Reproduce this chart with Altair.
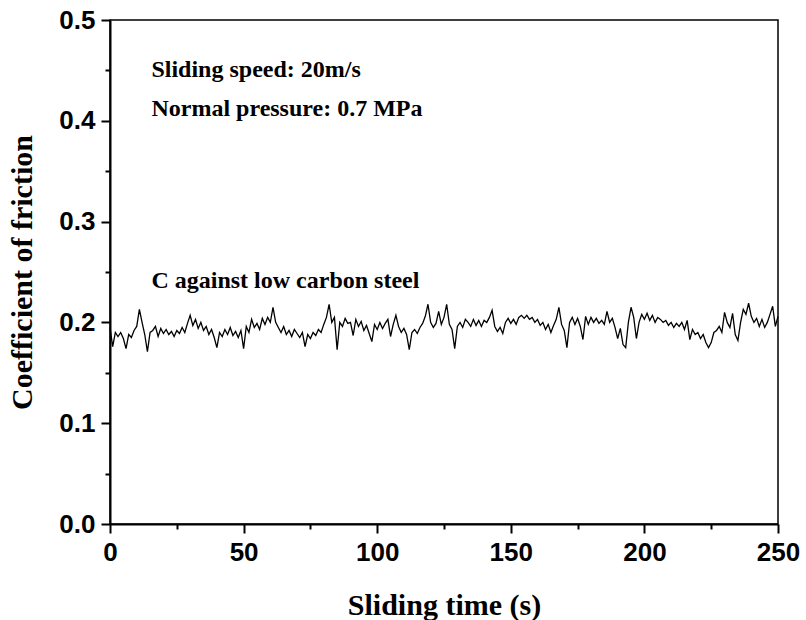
import altair as alt
import pandas as pd

# Sliding time (s), 1 s steps
time_s = list(range(0, 251))

# Coefficient of friction
cof = [
    0.195, 0.176, 0.190, 0.186, 0.190, 0.184, 0.174, 0.188, 0.185, 0.192,
    0.196, 0.213, 0.200, 0.188, 0.171, 0.190, 0.192, 0.196, 0.186, 0.194,
    0.189, 0.193, 0.188, 0.191, 0.186, 0.192, 0.189, 0.195, 0.190, 0.199,
    0.207, 0.197, 0.203, 0.194, 0.200, 0.192, 0.196, 0.188, 0.193, 0.185,
    0.175, 0.190, 0.186, 0.193, 0.188, 0.195, 0.187, 0.191, 0.185, 0.192,
    0.174, 0.196, 0.190, 0.203, 0.195, 0.199, 0.193, 0.204, 0.198, 0.205,
    0.200, 0.215, 0.200, 0.195, 0.190, 0.196, 0.188, 0.192, 0.186, 0.193,
    0.189, 0.185, 0.190, 0.176, 0.188, 0.184, 0.190, 0.187, 0.193, 0.190,
    0.198, 0.205, 0.218, 0.200, 0.205, 0.173, 0.200, 0.196, 0.204, 0.199,
    0.200, 0.187, 0.203, 0.196, 0.201, 0.192, 0.197, 0.189, 0.181, 0.198,
    0.193, 0.200, 0.194, 0.199, 0.203, 0.186, 0.198, 0.207, 0.196, 0.190,
    0.194, 0.188, 0.173, 0.190, 0.193, 0.189, 0.195, 0.199, 0.206, 0.218,
    0.200, 0.195, 0.199, 0.211, 0.198, 0.205, 0.218, 0.198, 0.193, 0.174,
    0.196, 0.200, 0.195, 0.203, 0.200, 0.196, 0.203, 0.197, 0.202, 0.196,
    0.202, 0.200, 0.205, 0.212, 0.196, 0.191, 0.195, 0.189, 0.200, 0.204,
    0.199, 0.203, 0.198, 0.205, 0.207, 0.204, 0.207, 0.203, 0.205, 0.200,
    0.203, 0.197, 0.200, 0.193, 0.198, 0.190, 0.197, 0.203, 0.215, 0.198,
    0.192, 0.175, 0.200, 0.205, 0.198, 0.204, 0.196, 0.183, 0.206, 0.198,
    0.205, 0.200, 0.204, 0.199, 0.202, 0.198, 0.211, 0.200, 0.204, 0.195,
    0.184, 0.194, 0.178, 0.175, 0.200, 0.215, 0.205, 0.184, 0.200, 0.208,
    0.203, 0.209, 0.202, 0.207, 0.200, 0.205, 0.203, 0.200, 0.202, 0.197,
    0.200, 0.195, 0.199, 0.196, 0.200, 0.193, 0.202, 0.183, 0.193, 0.188,
    0.190, 0.184, 0.188, 0.180, 0.175, 0.180, 0.190, 0.192, 0.196, 0.190,
    0.210, 0.200, 0.195, 0.209, 0.188, 0.182, 0.200, 0.213, 0.208, 0.219,
    0.206, 0.200, 0.204, 0.196, 0.203, 0.195, 0.200, 0.208, 0.216, 0.196,
    0.206,
]

x_ticks = [0, 25, 50, 75, 100, 125, 150, 175, 200, 225, 250]
y_ticks = [0.0, 0.05, 0.1, 0.15, 0.2, 0.25, 0.3, 0.35, 0.4, 0.45, 0.5]

notes = ["Sliding speed: 20m/s", "Normal pressure: 0.7 MPa", "C against low carbon steel"]
note_x = [15.5, 15.5, 15.5]
note_y = [0.4434, 0.4049, 0.2346]

df = pd.DataFrame({"t": time_s, "cof": cof})
df_notes = pd.DataFrame({"label": notes, "x": note_x, "y": note_y})

SANS = "Liberation Sans"
SERIF = "Liberation Serif"

x_scale = alt.Scale(domain=[0, 250], nice=False, zero=False)
y_scale = alt.Scale(domain=[0, 0.5], nice=False)

x_axis = alt.Axis(
    values=x_ticks,
    labelExpr="datum.value % 50 === 0 ? format(datum.value, 'd') : ''",
    tickSize={"condition": {"test": "datum.value % 50 === 0", "value": 9}, "value": 5},
    tickWidth=2, tickColor="black",
    domainColor="black", domainWidth=2,
    labelFont=SANS, labelFontWeight="bold", labelFontSize=26, labelColor="black",
    labelPadding=6, labelFlush=False, labelOverlap=False,
    grid=False,
    title="Sliding time (s)",
    titleFont=SERIF, titleFontWeight="bold", titleFontSize=30, titleColor="black",
    titleBaseline="middle", titleY=81,
)

y_axis = alt.Axis(
    values=y_ticks,
    labelExpr="round(datum.value*100) % 10 === 0 ? format(datum.value, '.1f') : ''",
    tickSize={"condition": {"test": "round(datum.value*100) % 10 === 0", "value": 9}, "value": 5},
    tickWidth=2, tickColor="black",
    domainColor="black", domainWidth=2,
    labelFont=SANS, labelFontWeight="bold", labelFontSize=26, labelColor="black",
    labelPadding=6, labelFlush=False, labelOverlap=False,
    grid=False,
    title="Coefficient of friction",
    titleFont=SERIF, titleFontWeight="bold", titleFontSize=30, titleColor="black",
    titleAngle=270, titleAlign="center", titleBaseline="middle",
    titleX=-88, titleY=252,
)

line = alt.Chart(df).mark_line(color="black", strokeWidth=1.3).encode(
    x=alt.X("t:Q", scale=x_scale, axis=x_axis),
    y=alt.Y("cof:Q", scale=y_scale, axis=y_axis),
)

text = alt.Chart(df_notes).mark_text(
    align="left", baseline="alphabetic", font=SERIF, fontWeight="bold",
    fontSize=24, color="black",
).encode(
    x=alt.X("x:Q", scale=x_scale),
    y=alt.Y("y:Q", scale=y_scale),
    text="label:N",
)

chart = (
    alt.layer(line, text)
    .properties(
        width=668,
        height=504,
        padding={"left": 110, "top": 20, "right": 28, "bottom": 96},
        autosize=alt.AutoSizeParams(type="none"),
        background="white",
    )
    .configure_view(stroke="black", strokeWidth=1.5)
)

chart.save("out.html", embed_options={"renderer": "svg", "actions": False})
